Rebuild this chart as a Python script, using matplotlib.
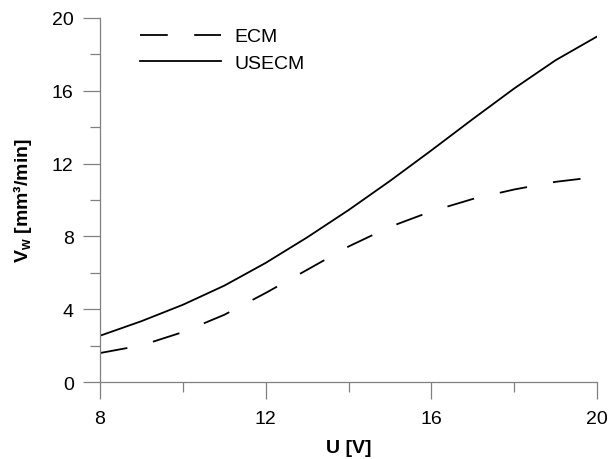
import numpy as np
import matplotlib
matplotlib.use("Agg")
import matplotlib.pyplot as plt

plt.rcParams['font.family'] = ['Liberation Sans', 'DejaVu Sans']
plt.rcParams['mathtext.fontset'] = 'custom'
plt.rcParams['mathtext.rm'] = 'Liberation Sans'
plt.rcParams['mathtext.bf'] = 'Liberation Sans:bold'
plt.rcParams['lines.scale_dashes'] = False

# voltage vs. material removal rate
u_volts = [8, 9, 10, 11, 12, 13, 14, 15, 16, 17, 18, 19, 20]
vw_ecm = [1.6, 2.02, 2.75, 3.7, 4.9, 6.17, 7.45, 8.53, 9.38, 10.06, 10.58, 11.0, 11.27]
vw_usecm = [2.55, 3.35, 4.25, 5.3, 6.55, 7.95, 9.45, 11.05, 12.73, 14.45, 16.13, 17.68, 18.98]

x_ticks = [8, 12, 16, 20]
y_ticks = [0, 4, 8, 12, 16, 20]

fig = plt.figure(figsize=(6.1, 4.6), dpi=100)
ax = fig.add_axes([0.164, 0.167, 0.815, 0.792])

ax.plot(u_volts, vw_ecm, color='black', lw=1.3, dashes=(20, 19), label='ECM')
ax.plot(u_volts, vw_usecm, color='black', lw=1.3, label='USECM')

ax.set_xlim(8, 20)
ax.set_ylim(0, 20)
ax.set_xticks(x_ticks)
ax.set_yticks(y_ticks)
ax.set_xticks([10, 14, 18], minor=True)
ax.set_yticks([2, 6, 10, 14, 18], minor=True)

for side in ['top', 'right']:
    ax.spines[side].set_visible(False)
for side in ['left', 'bottom']:
    ax.spines[side].set_color('#808080')
    ax.spines[side].set_linewidth(0.9)

ax.tick_params(which='major', direction='out', length=12, width=0.9,
               color='#808080', labelsize=14, labelcolor='black')
ax.tick_params(which='minor', direction='out', length=7, width=0.9, color='#808080')
ax.tick_params(axis='y', pad=7)
ax.tick_params(axis='x', pad=8)

ax.set_xlabel('U [V]', fontsize=14, fontweight='bold', labelpad=9)
ax.set_ylabel(r'$\mathbf{V_w}$ [mm³/min]', fontsize=14, fontweight='bold', labelpad=13)

ax.legend(loc='upper left', bbox_to_anchor=(0.08, 0.9725), frameon=False,
          fontsize=14, handlelength=4.2, handletextpad=0.67, labelspacing=0.47,
          borderpad=0, borderaxespad=0)

fig.savefig('out.png', dpi=100, facecolor='white')
